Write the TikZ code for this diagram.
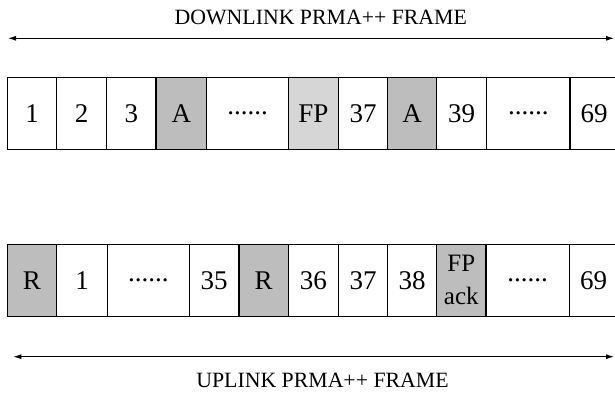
\documentclass[tikz,border=0pt]{standalone}
\usepackage{fontspec}
\setmainfont{Liberation Serif}
\usetikzlibrary{arrows.meta}
\tikzset{
  cell/.style={draw=black, line width=1.5pt, inner sep=0pt, minimum height=72pt,
    font=\fontsize{27}{27}\selectfont, anchor=center},
  shade/.style={cell, fill=black!26},
  lshade/.style={cell, fill=black!16},
  title/.style={font=\fontsize{21.8}{22}\selectfont, anchor=base},
  span/.style={line width=1pt, {Latex[length=8pt,width=5pt]}-{Latex[length=8pt,width=5pt]}}
}
\newcommand{\cellat}[5]{%
  \pgfmathsetmacro{\cw}{#3-#2}\pgfmathsetmacro{\cx}{(#2+#3)/2}%
  \node[#1, minimum width=\cw pt] (#4) at (\cx,\rowy) {#5};}
\begin{document}
\begin{tikzpicture}[x=1pt,y=1pt]
\useasboundingbox (0,0) rectangle (615,399);
% downlink title and span
\node[title] (dtitle) at (320.8,374) {DOWNLINK PRMA++ FRAME};
\coordinate (dl) at (8,360.7);
\coordinate (dr) at (614,360.7);
\draw[span] (dl) -- (dr);
% downlink row
\def\rowy{285.7}
\cellat{cell}{7.3}{56.7}{d1}{1}
\cellat{cell}{56.7}{106.7}{d2}{2}
\cellat{cell}{106.7}{156}{d3}{3}
\cellat{shade}{156}{206.7}{d4}{A}
\cellat{cell}{206.7}{288.3}{d5}{......}
\cellat{lshade}{288.3}{338.3}{d6}{FP}
\cellat{cell}{338.3}{387.7}{d7}{37}
\cellat{shade}{387.7}{436.7}{d8}{A}
\cellat{cell}{436.7}{486.7}{d9}{39}
\cellat{cell}{486.7}{570}{d10}{......}
\cellat{cell}{570}{618}{d11}{69}
% uplink row
\def\rowy{118.7}
\cellat{shade}{7.3}{56.7}{u1}{R}
\cellat{cell}{56.7}{107.3}{u2}{1}
\cellat{cell}{107.3}{189.3}{u3}{......}
\cellat{cell}{189.3}{239}{u4}{35}
\cellat{shade}{239}{288.3}{u5}{R}
\cellat{cell}{288.3}{338.3}{u6}{36}
\cellat{cell}{338.3}{387.7}{u7}{37}
\cellat{cell}{387.7}{436.5}{u8}{38}
\cellat{shade}{436.5}{486}{u9}{\parbox{46pt}{\centering\fontsize{25}{33}\selectfont FP\\ack}}
\cellat{cell}{486}{569.3}{u10}{......}
\cellat{cell}{569.3}{618}{u11}{69}
% uplink span and title
\coordinate (ul) at (13.3,42.3);
\coordinate (ur) at (614,42.3);
\draw[span] (ul) -- (ur);
\node[title] (utitle) at (322.5,12) {UPLINK PRMA++ FRAME};
\end{tikzpicture}
\end{document}
